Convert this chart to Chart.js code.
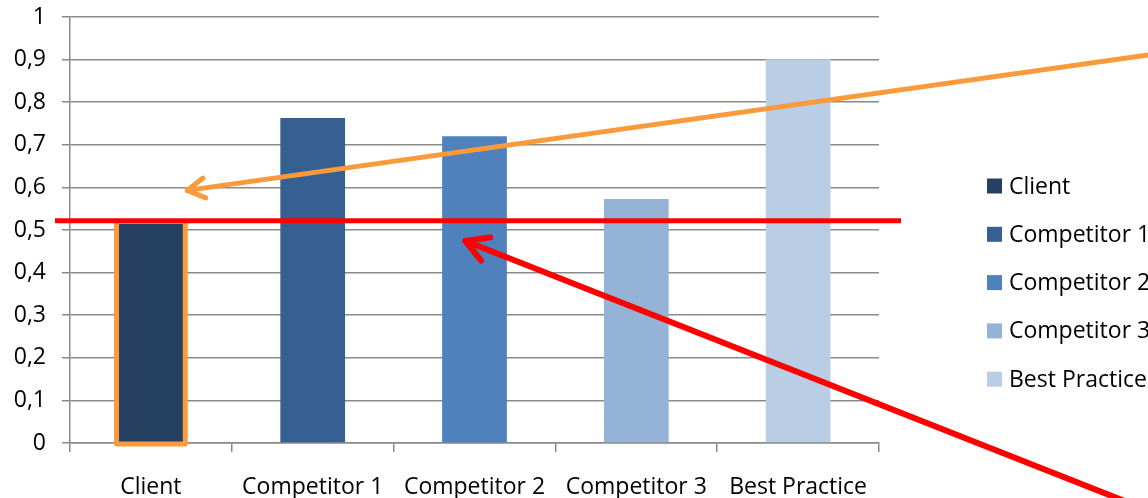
<!DOCTYPE html>
<html>
<head>
<meta charset="utf-8">
<script src="https://cdn.jsdelivr.net/npm/chart.js@4/dist/chart.umd.min.js"></script>
<style>
html,body{margin:0;padding:0;background:#fff;overflow:hidden;}
#wrap{width:1148px;height:498px;position:relative;}
</style>
</head>
<body>
<div id="wrap"><canvas id="c" width="1148" height="498"></canvas></div>
<script>
const categories = ['Client', 'Competitor 1', 'Competitor 2', 'Competitor 3', 'Best Practice'];
const values = [0.52, 0.763, 0.72, 0.573, 0.901];
const barColors = ['#264061', '#366092', '#4f81bd', '#95b3d7', '#b9cde5'];
const yTickLabels = ['0', '0,1', '0,2', '0,3', '0,4', '0,5', '0,6', '0,7', '0,8', '0,9', '1'];
const benchmark = 0.522;
const orangeTipValue = 0.593;
const redTipValue = 0.474;

const FONT = '"Open Sans", sans-serif';
const GRID = '#8a8a8a';

function arrow(ctx, tx, ty, fx, fy, color, width, head) {
  ctx.save();
  ctx.strokeStyle = color;
  ctx.lineWidth = width;
  ctx.lineCap = 'round';
  ctx.lineJoin = 'round';
  ctx.beginPath();
  ctx.moveTo(fx, fy);
  ctx.lineTo(tx, ty);
  ctx.stroke();
  const ang = Math.atan2(fy - ty, fx - tx);
  const a = Math.PI / 6;
  ctx.beginPath();
  ctx.moveTo(tx + head * Math.cos(ang - a), ty + head * Math.sin(ang - a));
  ctx.lineTo(tx, ty);
  ctx.lineTo(tx + head * Math.cos(ang + a), ty + head * Math.sin(ang + a));
  ctx.stroke();
  ctx.restore();
}

const overlay = {
  id: 'overlay',
  afterDraw(chart) {
    const ctx = chart.ctx;
    const ca = chart.chartArea;
    const y = chart.scales.y;
    const meta = chart.getDatasetMeta(0);
    const b0 = meta.data[0];
    const b2 = meta.data[2];
    const hw0 = b0.width / 2;

    // orange frame around Client bar
    ctx.save();
    ctx.strokeStyle = '#fb9a3b';
    ctx.lineWidth = 5;
    ctx.lineJoin = 'round';
    ctx.strokeRect(b0.x - hw0 - 2, b0.y, b0.width + 4, y.getPixelForValue(0) - b0.y + 1);
    ctx.restore();

    // red benchmark line
    const by = y.getPixelForValue(benchmark);
    ctx.save();
    ctx.strokeStyle = '#ff0000';
    ctx.lineWidth = 5;
    ctx.beginPath();
    ctx.moveTo(ca.left - 15, by);
    ctx.lineTo(ca.right + 22, by);
    ctx.stroke();
    ctx.restore();

    // orange arrow
    arrow(ctx, b0.x + hw0 + 4, y.getPixelForValue(orangeTipValue), 1170, 52, '#fb9a3b', 5, 20);
    // red arrow
    arrow(ctx, b2.x - 9, y.getPixelForValue(redTipValue), 1160, 515, '#ff0000', 6, 25);

    // legend
    ctx.save();
    ctx.font = '23px ' + FONT;
    ctx.textBaseline = 'middle';
    ctx.textAlign = 'left';
    const lx = ca.right + 108;
    const ly0 = 186, step = 48.3;
    categories.forEach((c, i) => {
      const cy = ly0 + i * step;
      ctx.fillStyle = barColors[i];
      ctx.fillRect(lx, cy - 7.5, 15, 15);
      ctx.fillStyle = '#000';
      ctx.fillText(c, lx + 22, cy + 1);
    });
    ctx.restore();
  }
};

new Chart(document.getElementById('c'), {
  type: 'bar',
  data: {
    labels: categories,
    datasets: [{
      data: values,
      backgroundColor: barColors,
      borderWidth: 0,
      categoryPercentage: 1,
      barPercentage: 0.4
    }]
  },
  options: {
    responsive: false,
    animation: false,
    events: [],
    layout: { padding: { left: 0, top: 17, right: 269, bottom: 0 } },
    plugins: { legend: { display: false }, tooltip: { enabled: false } },
    scales: {
      x: {
        grid: { offset: true, drawOnChartArea: false, tickLength: 9, color: GRID, lineWidth: 1.5 },
        border: { display: true, color: GRID, width: 1.5 },
        ticks: { color: '#000', font: { family: FONT, size: 23 }, padding: 22, maxRotation: 0, autoSkip: false },
        afterFit(s) { s.height = 55; s.paddingLeft = 0; s.paddingRight = 0; }
      },
      y: {
        min: 0, max: 1,
        grid: { color: GRID, lineWidth: 1.5, tickLength: 8 },
        border: { display: true, color: GRID, width: 1.5 },
        ticks: {
          stepSize: 0.1,
          color: '#000',
          font: { family: FONT, size: 23 },
          padding: 16,
          callback: (v, i) => yTickLabels[i]
        },
        afterFit(s) { s.width = 70; s.paddingTop = 0; s.paddingBottom = 0; }
      }
    }
  },
  plugins: [overlay]
});
</script>
</body>
</html>
